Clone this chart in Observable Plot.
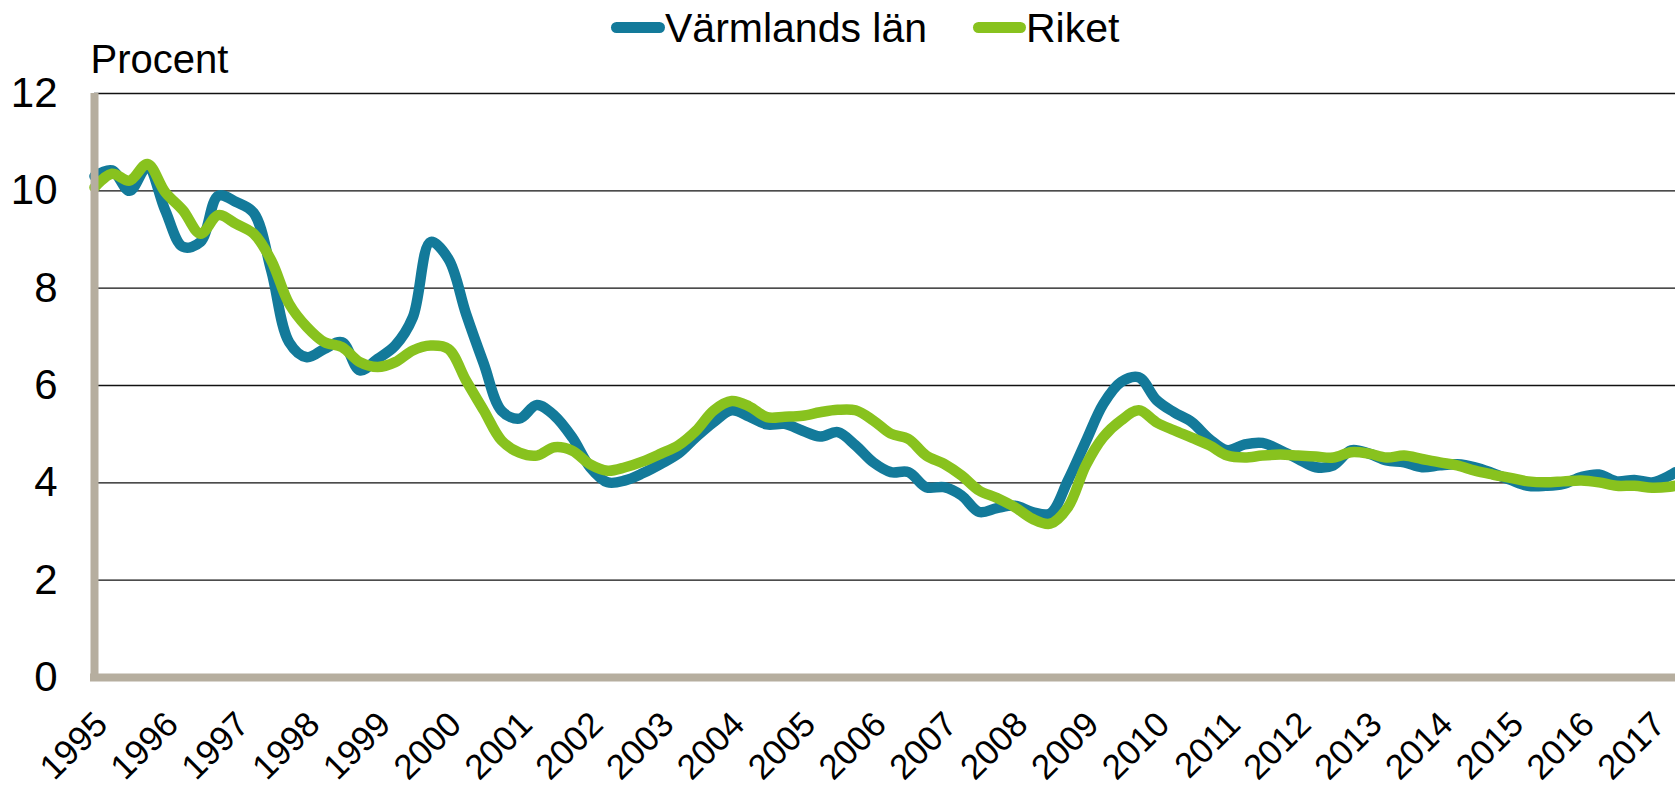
<!DOCTYPE html>
<html><head><meta charset="utf-8">
<script src="https://cdn.jsdelivr.net/npm/d3@7"></script>
<script src="https://cdn.jsdelivr.net/npm/@observablehq/plot@0.6"></script>
<style>
body{margin:0;background:#fff;font-family:"Liberation Sans",Arial,sans-serif;}
#legend{position:relative;height:44px;font-size:41px;width:1675px;}
.sw{position:absolute;height:11px;border-radius:5.5px;top:22px;}
.lt{position:absolute;line-height:40px;top:8px;color:#000;white-space:nowrap;}
</style></head><body>
<div id="legend"></div>
<div id="chart"></div>
<script>
const seriesNames = ["Värmlands län", "Riket"];
const colors = ["#137a9a", "#88c21e"];
const yTicks = [0, 2, 4, 6, 8, 10, 12];
const yearLabels = ["1995","1996","1997","1998","1999","2000","2001","2002","2003","2004","2005","2006","2007","2008","2009","2010","2011","2012","2013","2014","2015","2016","2017"];
const periods = [
 "1995-01","1995-04","1995-07","1995-10","1996-01","1996-04","1996-07","1996-10",
 "1997-01","1997-04","1997-07","1997-10","1998-01","1998-04","1998-07","1998-10",
 "1999-01","1999-04","1999-07","1999-10","2000-01","2000-04","2000-07","2000-10",
 "2001-01","2001-04","2001-07","2001-10","2002-01","2002-04","2002-07","2002-10",
 "2003-01","2003-04","2003-07","2003-10","2004-01","2004-04","2004-07","2004-10",
 "2005-01","2005-04","2005-07","2005-10","2006-01","2006-04","2006-07","2006-10",
 "2007-01","2007-04","2007-07","2007-10","2008-01","2008-04","2008-07","2008-10",
 "2009-01","2009-04","2009-07","2009-10","2010-01","2010-04","2010-07","2010-10",
 "2011-01","2011-04","2011-07","2011-10","2012-01","2012-04","2012-07","2012-10",
 "2013-01","2013-04","2013-07","2013-10","2014-01","2014-04","2014-07","2014-10",
 "2015-01","2015-04","2015-07","2015-10","2016-01","2016-04","2016-07","2016-10",
 "2017-01","2017-04","2017-05"
];
const varmland = [
 10.3, 10.42, 10.0, 10.49,  9.6, 8.85, 8.95, 9.9,
 9.77, 9.55, 8.36, 6.89,  6.58, 6.75, 6.89, 6.31,
 6.55, 6.82, 7.4, 8.95,  8.6, 7.47, 6.45, 5.48,
 5.32, 5.6, 5.38, 4.93,  4.32, 4.01, 4.05, 4.2,
 4.39, 4.6, 4.94, 5.25,  5.49, 5.36, 5.2, 5.21,
 5.07, 4.95, 5.04, 4.77,  4.42, 4.22, 4.22, 3.91,
 3.91, 3.74, 3.4, 3.48,  3.53, 3.4, 3.37, 4.05,
 4.85, 5.62, 6.07, 6.17,  5.7, 5.45, 5.25, 4.9,
 4.67, 4.79, 4.82, 4.67,  4.49, 4.32, 4.36, 4.67,
 4.6, 4.46, 4.42, 4.32,  4.36, 4.38, 4.32, 4.2,
 4.06, 3.94, 3.94, 3.98,  4.12, 4.17, 4.03, 4.06,
 4.01, 4.15, 4.22
];
const riket = [
 10.07, 10.35, 10.21, 10.55,  9.97, 9.6, 9.12, 9.5,
 9.32, 9.12, 8.57, 7.68,  7.2, 6.89, 6.79, 6.48,
 6.38, 6.48, 6.72, 6.82,  6.75, 6.1, 5.49, 4.87,
 4.62, 4.56, 4.73, 4.66,  4.38, 4.25, 4.32, 4.44,
 4.6, 4.77, 5.07, 5.49,  5.68, 5.57, 5.35, 5.36,
 5.38, 5.45, 5.5, 5.49,  5.28, 5.01, 4.9, 4.56,
 4.39, 4.15, 3.84, 3.69,  3.5, 3.26, 3.16, 3.5,
 4.36, 4.94, 5.28, 5.49,  5.24, 5.08, 4.93, 4.77,
 4.56, 4.52, 4.56, 4.58,  4.56, 4.54, 4.52, 4.63,
 4.6, 4.52, 4.56, 4.49,  4.42, 4.36, 4.25, 4.17,
 4.1, 4.03, 4.01, 4.03,  4.05, 4.01, 3.94, 3.94,
 3.9, 3.92, 3.94
];

const parseP = d3.utcParse("%Y-%m");
const parseY = d3.utcParse("%Y");
const rows = [];
periods.forEach((p, i) => {
  rows.push({date: parseP(p), value: varmland[i], series: seriesNames[0]});
  rows.push({date: parseP(p), value: riket[i], series: seriesNames[1]});
});
const yearDates = yearLabels.map(parseY);
const beige = "#b6ae9f";

// legend
const legend = document.getElementById("legend");
const legendPos = [[611, 54, 665], [973, 53, 1026]];
seriesNames.forEach((name, i) => {
  const sw = document.createElement("span");
  sw.className = "sw";
  sw.style.left = legendPos[i][0] + "px";
  sw.style.width = legendPos[i][1] + "px";
  sw.style.background = colors[i];
  legend.appendChild(sw);
  const t = document.createElement("span");
  t.className = "lt";
  t.style.left = legendPos[i][2] + "px";
  t.textContent = name;
  legend.appendChild(t);
});

const chart = Plot.plot({
  width: 1675,
  height: 748,
  marginLeft: 94,
  marginRight: 0,
  marginTop: 49,
  marginBottom: 115,
  style: {fontFamily: "'Liberation Sans', Arial, sans-serif", fontSize: "36px", color: "#000", background: "#fff", overflow: "visible"},
  x: {type: "utc", domain: [parseP(periods[0]), parseP(periods[periods.length - 1])]},
  y: {domain: [0, 12]},
  color: {domain: seriesNames, range: colors},
  marks: [
    Plot.ruleY(yTicks.filter(d => d > 0), {stroke: "#111", strokeWidth: 1.4}),
    Plot.line(rows, {x: "date", y: "value", z: "series", stroke: "series", strokeWidth: 10.5, curve: "catmull-rom", strokeLinejoin: "round", strokeLinecap: "round"}),
    Plot.ruleY([0], {stroke: beige, strokeWidth: 8, insetLeft: -4}),
    Plot.ruleX([parseP(periods[0])], {stroke: beige, strokeWidth: 8, insetBottom: -4}),
    Plot.axisY({ticks: yTicks, tickSize: 0, tickPadding: 37, fontSize: 42, label: null}),
    Plot.axisX({ticks: yearDates, tickFormat: d3.utcFormat("%Y"), tickSize: 0, tickRotate: -45, tickPadding: 41, dx: 7, fontSize: 35, label: null}),
    Plot.text(["Procent"], {frameAnchor: "top-left", textAnchor: "start", lineAnchor: "bottom", dx: -4, dy: -21, fontSize: 40})
  ]
});
document.getElementById("chart").appendChild(chart);
</script>
</body></html>
